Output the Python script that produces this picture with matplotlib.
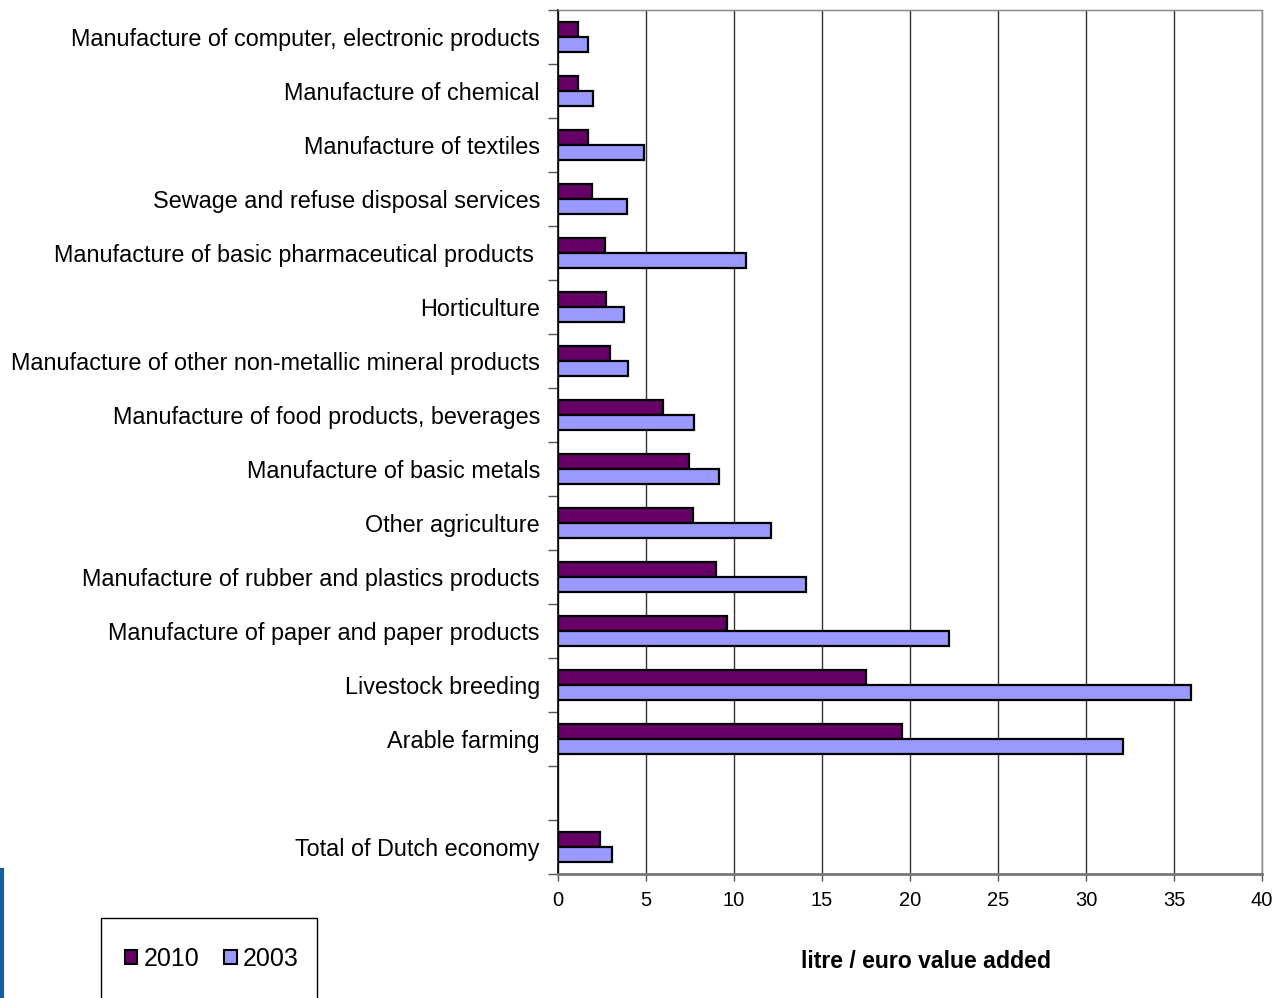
import matplotlib
matplotlib.use("Agg")
import matplotlib.pyplot as plt
import numpy as np
from matplotlib.patches import Rectangle, Patch
from matplotlib.lines import Line2D

plt.rcParams['font.family'] = ['Liberation Sans', 'DejaVu Sans']

categories = [
    "Manufacture of computer, electronic products",
    "Manufacture of chemical",
    "Manufacture of textiles",
    "Sewage and refuse disposal services",
    "Manufacture of basic pharmaceutical products ",
    "Horticulture",
    "Manufacture of other non-metallic mineral products",
    "Manufacture of food products, beverages",
    "Manufacture of basic metals",
    "Other agriculture",
    "Manufacture of rubber and plastics products",
    "Manufacture of paper and paper products",
    "Livestock breeding",
    "Arable farming",
    "Total of Dutch economy",
]
values_2010 = [1.15, 1.15, 1.68, 1.91, 2.67, 2.73, 2.96, 5.94, 7.42, 7.67, 9.0, 9.63, 17.5, 19.55, 2.38]
values_2003 = [1.68, 1.97, 4.89, 3.93, 10.7, 3.76, 3.99, 7.71, 9.12, 12.08, 14.1, 22.2, 35.97, 32.1, 3.09]
series_labels = ["2010", "2003"]
x_ticks = [0, 5, 10, 15, 20, 25, 30, 35, 40]
x_label = "litre / euro value added"

dark = "#660066"
light = "#9999FF"

fig = plt.figure(figsize=(12.77, 9.98), dpi=100)
W, H = 1277, 998
ax = fig.add_axes([558 / W, 1 - 874 / H, (1262 - 558) / W, (874 - 10) / H])

# slot positions: an empty slot before the total
pos = np.array(list(range(len(categories) - 1)) + [len(categories)], dtype=float)
off = 0.14
h = 0.28
ax.barh(pos - off, values_2010, height=h, color=dark, edgecolor="black", linewidth=1.6, zorder=3)
ax.barh(pos + off, values_2003, height=h, color=light, edgecolor="black", linewidth=1.6, zorder=3)

ax.set_xlim(0, 40)
ax.set_ylim(len(categories) + 0.5, -0.5)
ax.set_xticks(x_ticks)
ax.set_xticklabels([str(t) for t in x_ticks], fontsize=14.5)
ax.tick_params(axis="x", length=5, width=1, pad=7, color="#555555")

ax.set_yticks(pos)
ax.set_yticklabels(categories, fontsize=16.8)
ax.tick_params(axis="y", which="major", length=0, pad=13)
ax.set_yticks(np.arange(-0.5, len(categories) + 1, 1.0), minor=True)
ax.tick_params(axis="y", which="minor", length=7, width=1, color="#555555")

ax.grid(axis="x", color="#333333", linewidth=1, zorder=0)
ax.set_axisbelow(True)
for s in ["top", "right"]:
    ax.spines[s].set_color("#888888")
    ax.spines[s].set_linewidth(1)
ax.spines["left"].set_color("black")
ax.spines["left"].set_linewidth(1.2)
ax.spines["bottom"].set_color("#777777")
ax.spines["bottom"].set_linewidth(2)

fig.text(926 / W, 1 - 961 / H, x_label, fontsize=16.6, fontweight="bold", ha="center", va="center")

# legend box
fig.patches.append(Rectangle((101 / W, -0.01), (317 - 101) / W, (1 - 918 / H) + 0.01,
                             transform=fig.transFigure, facecolor="white", edgecolor="black",
                             linewidth=1))
handles = [Patch(facecolor=dark, edgecolor="black", linewidth=1.5),
           Patch(facecolor=light, edgecolor="black", linewidth=1.5)]
fig.legend(handles, series_labels, loc="center", bbox_to_anchor=(212 / W, 1 - 959 / H),
           ncol=2, frameon=False, fontsize=18, handlelength=0.5, handleheight=0.5,
           handletextpad=0.25, columnspacing=1.0)

# blue decorative line at left
fig.add_artist(Line2D([1.5 / W, 1.5 / W], [0, 1 - 870 / H], transform=fig.transFigure,
                      color="#1060A0", linewidth=3))

fig.savefig("out.png", dpi=100)
